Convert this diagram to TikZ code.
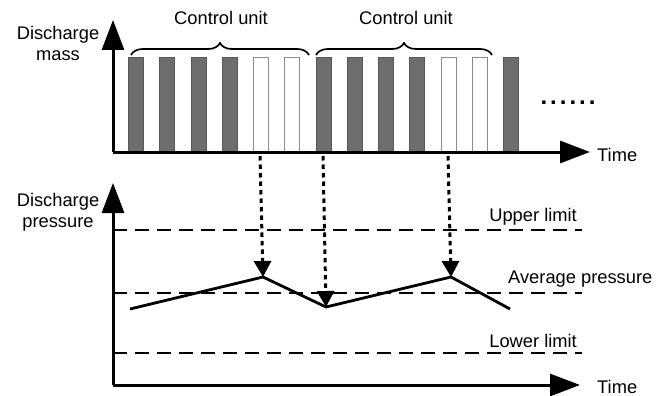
\documentclass[tikz,border=0pt]{standalone}
\usepackage{fontspec}
\setmainfont{Liberation Sans}
\usetikzlibrary{arrows.meta,decorations.pathreplacing}
\definecolor{bargrey}{HTML}{6E6E6E}
\definecolor{baredge}{HTML}{8A8A8A}
\begin{document}
\begin{tikzpicture}[x=1pt,y=-1pt,
  axis/.style={line width=3pt,-{Triangle[length=30pt,width=22pt]}},
  lbl/.style={font=\fontsize{18.3}{21}\selectfont,inner sep=0pt,align=center},
  fullbar/.style={fill=bargrey,draw=bargrey!80!black,line width=0.8pt},
  emptybar/.style={fill=white,draw=baredge,line width=1.2pt},
  limitline/.style={dash pattern=on 14pt off 8pt,line width=2.3pt},
  curve/.style={line width=2.8pt,line join=miter},
  trigger/.style={line width=3pt,dash pattern=on 4.5pt off 4pt,-{Triangle[length=16pt,width=17pt]}},
  ubrace/.style={decorate,decoration={brace,amplitude=12pt},line width=1.7pt}]
\useasboundingbox (0,0) rectangle (669,396);
% top chart
\coordinate (o1) at (113,152);
\coordinate (y1) at (113,20);
\coordinate (x1) at (590,152);
\foreach \i/\s in {0/fullbar,1/fullbar,2/fullbar,3/fullbar,4/emptybar,5/emptybar,6/fullbar,7/fullbar,8/fullbar,9/fullbar,10/emptybar,11/emptybar,12/fullbar}{
  \node[\s,minimum width=15pt,minimum height=94pt,inner sep=0pt,anchor=south west] (bar\i) at ({128+31.25*\i},152) {};
}
\draw[axis] (o1) -- (y1);
\draw[axis] (o1) -- (x1);
\node[lbl] (mass) at (58,43) {Discharge\\mass};
\node[lbl,anchor=west] (time1) at (597,155) {Time};
\coordinate (b1a) at (131,55);
\coordinate (b1b) at (309,55);
\coordinate (b2a) at (316,55);
\coordinate (b2b) at (492,55);
\draw[ubrace] (b1a) -- (b1b);
\draw[ubrace] (b2a) -- (b2b);
\node[lbl] (cu1) at (221,18) {Control unit};
\node[lbl] (cu2) at (406,18) {Control unit};
\node[font=\fontsize{24}{24}\bfseries\selectfont,inner sep=0pt] (dots) at (568,103) {.\hskip3pt.\hskip3pt.\hskip3pt.\hskip3pt.\hskip3pt.};
% bottom chart
\coordinate (o2) at (113,385);
\coordinate (y2) at (113,183);
\coordinate (x2) at (580,385);
\coordinate (ul0) at (113,230); \coordinate (ul1) at (582,230);
\coordinate (av0) at (113,293); \coordinate (av1) at (582,293);
\coordinate (ll0) at (113,353); \coordinate (ll1) at (582,353);
\draw[limitline] (ul0) -- (ul1);
\draw[limitline] (av0) -- (av1);
\draw[limitline] (ll0) -- (ll1);
\draw[axis] (o2) -- (y2);
\draw[axis] (o2) -- (x2);
\node[lbl] (press) at (58,212) {Discharge\\pressure};
\node[lbl,anchor=west] (time2) at (597,387) {Time};
\node[lbl,anchor=south east] (ulbl) at (577,225) {Upper limit};
\node[lbl,anchor=south west] (albl) at (508,287) {Average pressure};
\node[lbl,anchor=south east] (llbl) at (577,348) {Lower limit};
\coordinate (p0) at (130,309);
\coordinate (p1) at (263,277);
\coordinate (p2) at (326,307);
\coordinate (p3) at (451,277);
\coordinate (p4) at (510,309);
\draw[curve] (p0) -- (p1) -- (p2) -- (p3) -- (p4);
\coordinate (t1) at (260,156);
\coordinate (t2) at (323,156);
\coordinate (t3) at (448,156);
\draw[trigger] (t1) -- (p1);
\draw[trigger] (t2) -- (p2);
\draw[trigger] (t3) -- (p3);
\end{tikzpicture}
\end{document}
